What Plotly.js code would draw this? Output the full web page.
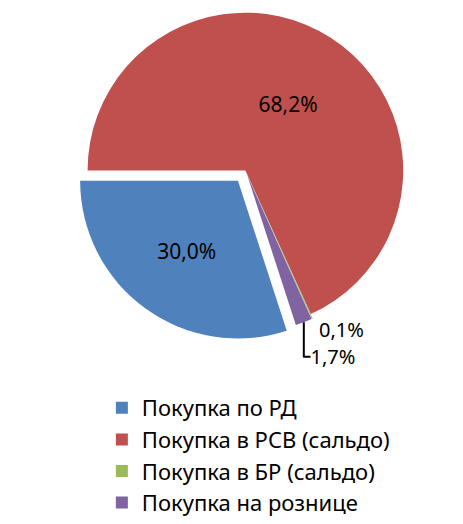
<!DOCTYPE html>
<html>
<head>
<meta charset="utf-8">
<script src="https://cdn.plot.ly/plotly-3.0.1.min.js"></script>
<style>html,body{margin:0;padding:0;background:#fff;}#chart{width:463px;height:524px;}</style>
</head>
<body>
<div id="chart"></div>
<script>
const categories = ['Покупка по РД', 'Покупка в РСВ (сальдо)', 'Покупка в БР (сальдо)', 'Покупка на рознице'];
const shares = [30.0, 68.2, 0.1, 1.7];
const colors = ['#4F81BD', '#C0504D', '#9BBB59', '#8064A2'];
const labelsText = shares.map(v => v.toFixed(1).replace('.', ',') + '%');

const trace = {
  type: 'pie',
  labels: categories,
  values: shares,
  text: labelsText,
  textinfo: 'text',
  textposition: ['inside', 'inside', 'outside', 'outside'],
  insidetextorientation: 'horizontal',
  sort: false,
  direction: 'clockwise',
  rotation: 162,
  pull: [0.08, 0, 0.03, 0.03],
  marker: {colors: colors, line: {width: 0}},
  textfont: {family: 'Noto Sans, Open Sans, sans-serif', size: 21, color: '#000'},
  outsidetextfont: {family: 'Noto Sans, Open Sans, sans-serif', size: 20, color: '#000'},
  hoverinfo: 'none',
  domain: {x: [0.06, 1], y: [0.3, 1]}
};

const layout = {
  width: 463,
  height: 524,
  margin: {l: 0, r: 0, t: 0, b: 0},
  paper_bgcolor: '#fff',
  showlegend: true,
  legend: {
    orientation: 'v',
    x: 0.22, xanchor: 'left',
    y: 0.205, yanchor: 'top',
    font: {family: 'Noto Sans, Open Sans, sans-serif', size: 22, color: '#000'},
    tracegroupgap: 0,
    itemwidth: 30
  }
};

Plotly.newPlot('chart', [trace], layout, {displayModeBar: false, staticPlot: true});
</script>
</body>
</html>
